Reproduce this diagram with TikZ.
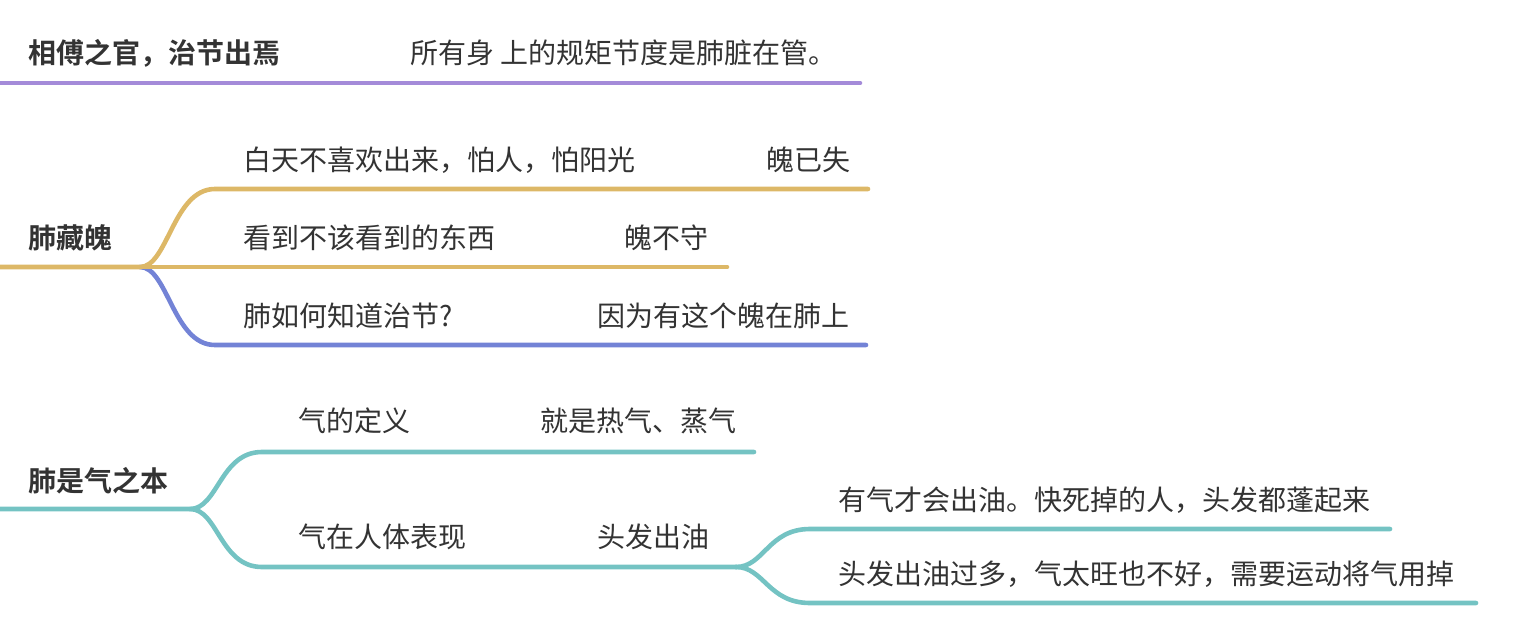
\documentclass[tikz,border=0pt]{standalone}
\usepackage{fontspec}
\setmainfont{Noto Sans CJK SC}[BoldFont={* Bold}]
\usetikzlibrary{positioning}
\definecolor{lilac}{HTML}{A48BD9}
\definecolor{mustard}{HTML}{DDB867}
\definecolor{periwinkle}{HTML}{7383D6}
\definecolor{teal}{HTML}{74C3C3}
\definecolor{ink}{HTML}{333333}

\tikzset{
	topic/.style={anchor=west,inner sep=0pt,text=ink,font=\bfseries\fontsize{28}{32}\selectfont},
	leaf/.style={anchor=west,inner sep=0pt,text=ink,font=\fontsize{28}{32}\selectfont},
	branch/.style={line width=4.6pt,line cap=round},
	fork/.style={to path={.. controls +(28,0) and +(-42,0) .. (\tikztotarget)}}
}

\begin{document}
\begin{tikzpicture}[x=1pt,y=-1pt]
		\useasboundingbox (0,0) rectangle (1534,626);
		% first topic
		\node[topic] (guan) at (28,53) {相傅之官，治节出焉};
		\node[leaf] (guanNote) at (410,53) {所有身 上的规矩节度是肺脏在管。};
		\coordinate (guanL) at (0,83);
		\coordinate (guanR) at (860,83);
		\draw[branch,lilac] (guanL) -- (guanR);
		% second topic
		\node[topic] (po) at (28,238) {肺藏魄};
		\node[leaf] (poA) at (243,160) {白天不喜欢出来，怕人，怕阳光};
		\node[leaf] (poANote) at (766,160) {魄已失};
		\node[leaf] (poB) at (243,238) {看到不该看到的东西};
		\node[leaf] (poBNote) at (624,238) {魄不守};
		\node[leaf] (poC) at (243,316) {肺如何知道治节?};
		\node[leaf] (poCNote) at (597,316) {因为有这个魄在肺上};
		\coordinate (poL) at (0,267);
		\coordinate (poFork) at (140,267);
		\coordinate (poAStart) at (215,189);
		\coordinate (poAEnd) at (868,189);
		\coordinate (poBEnd) at (727,267);
		\coordinate (poCStart) at (215,345);
		\coordinate (poCEnd) at (866,345);
		\draw[branch,periwinkle] (poFork) to[fork] (poCStart) -- (poCEnd);
		\draw[branch,mustard] (poL) -- (poFork) to[fork] (poAStart) -- (poAEnd);
		\draw[branch,mustard] (poFork) -- (poBEnd);
		% third topic
		\node[topic] (qi) at (28,481) {肺是气之本};
		\node[leaf] (qiA) at (298,421) {气的定义};
		\node[leaf] (qiANote) at (540,421) {就是热气、蒸气};
		\node[leaf] (qiB) at (298,537) {气在人体表现};
		\node[leaf] (qiBNote) at (597,537) {头发出油};
		\node[leaf] (oilA) at (838,500) {有气才会出油。快死掉的人，头发都蓬起来};
		\node[leaf] (oilB) at (838,574) {头发出油过多，气太旺也不好，需要运动将气用掉};
		\coordinate (qiL) at (0,509);
		\coordinate (qiFork) at (190,509);
		\coordinate (qiAStart) at (262,452);
		\coordinate (qiAEnd) at (754,452);
		\coordinate (qiBStart) at (262,567);
		\coordinate (qiBEnd) at (736,567);
		\coordinate (oilAStart) at (810,529);
		\coordinate (oilAEnd) at (1390,529);
		\coordinate (oilBStart) at (810,603);
		\coordinate (oilBEnd) at (1476,603);
		\draw[branch,teal] (qiL) -- (qiFork) to[fork] (qiAStart) -- (qiAEnd);
		\draw[branch,teal] (qiFork) to[fork] (qiBStart) -- (qiBEnd);
		\draw[branch,teal] (qiBEnd) to[fork] (oilAStart) -- (oilAEnd);
		\draw[branch,teal] (qiBEnd) to[fork] (oilBStart) -- (oilBEnd);
	\end{tikzpicture}
\end{document}
